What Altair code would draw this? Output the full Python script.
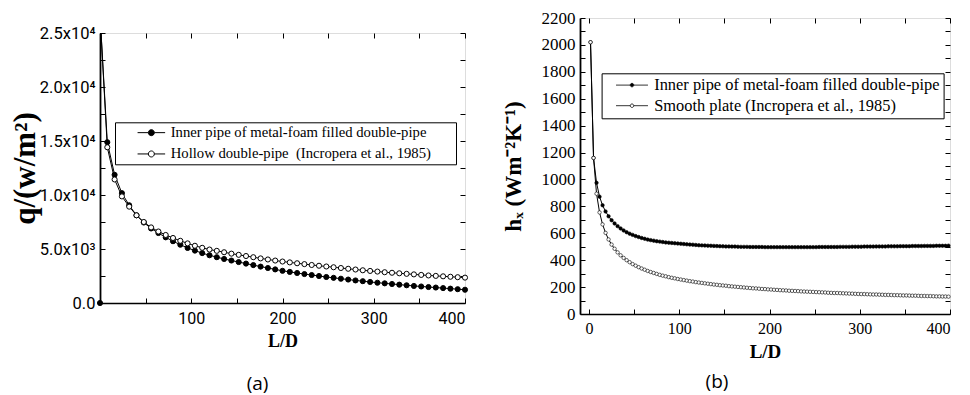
import altair as alt
import pandas as pd

# ---------------- panel (a): heat flux q versus L/D ----------------
ld_a = [8, 16, 24, 32, 40, 48, 56, 64, 72, 80, 88, 96, 104, 112, 120, 128, 136,
        144, 152, 160, 168, 176, 184, 192, 200, 208, 216, 224, 232, 240, 248, 256,
        264, 272, 280, 288, 296, 304, 312, 320, 328, 336, 344, 352, 360, 368, 376,
        384, 392, 400]
q_foam = [14890, 11870, 10170, 9050, 8120, 7450, 6900, 6480, 6080, 5720,
          5400, 5100, 4850, 4620, 4420, 4240, 4080, 3930, 3790, 3650,
          3510, 3370, 3240, 3110, 2980, 2880, 2780, 2680, 2590, 2500,
          2410, 2330, 2250, 2170, 2090, 2020, 1950, 1880, 1820, 1760,
          1700, 1640, 1580, 1530, 1480, 1430, 1380, 1330, 1280, 1230]
q_hollow = [14420, 11440, 9870, 8920, 8120, 7500, 7000, 6620, 6300, 6020,
            5760, 5520, 5300, 5110, 4950, 4830, 4700, 4570, 4460, 4350,
            4240, 4130, 4030, 3930, 3840, 3760, 3680, 3600, 3520, 3450,
            3380, 3310, 3240, 3170, 3100, 3030, 2970, 2910, 2850, 2800,
            2750, 2700, 2650, 2600, 2550, 2510, 2470, 2430, 2390, 2350]
ld_a_lead = [0, 0.5]          # curve rises off the top near the inlet
q_lead = [0, 26000]

ya_vals = [0, 5000, 10000, 15000, 20000, 25000]
ya_text = ["0.0", "5.0x10³", "1.0x10⁴", "1.5x10⁴", "2.0x10⁴", "2.5x10⁴"]
ya_ticks = [0, 2500, 5000, 7500, 10000, 12500, 15000, 17500, 20000, 22500, 25000]
xa_vals = [100, 200, 300, 400]
xa_ticks = [0, 50, 100, 150, 200, 250, 300, 350, 400]

FOAM = "Inner pipe of metal-foam filled double-pipe"
HOLLOW = "Hollow double-pipe\u00a0 (Incropera et al., 1985)"
SMOOTH = "Smooth plate (Incropera et al., 1985)"

# ---------------- panel (b): local heat transfer coefficient ----------------
ld_b = [round((10 * k - 5) / 3, 2) for k in range(1, 121)]
h_foam = [2020, 1160, 975, 872, 808, 762, 726, 697, 673, 653,
          636, 621, 608, 597, 588, 579, 572, 565, 559, 553,
          549, 545, 541, 538, 535, 532, 530, 528, 526, 524,
          522, 520, 518, 516, 515, 513, 511, 510, 509, 508,
          507, 506, 505, 504, 503, 502, 502, 501, 501, 500,
          499, 499, 499, 498, 498, 498, 498, 498, 497, 497,
          497, 497, 497, 497, 497, 497, 497, 497, 497, 497,
          497, 497, 497, 497, 497, 497, 498, 498, 498, 498,
          498, 498, 498, 499, 499, 499, 499, 500, 500, 500,
          500, 501, 501, 501, 501, 502, 502, 502, 502, 503,
          503, 503, 503, 504, 504, 504, 504, 505, 505, 505,
          505, 506, 506, 506, 506, 507, 507, 507, 507, 508]
h_smooth = [2020, 1160, 894, 755, 666, 603, 554, 516, 485, 458,
            436, 417, 400, 385, 371, 359, 348, 338, 329, 320,
            312, 305, 298, 291, 285, 280, 274, 269, 265, 260,
            256, 252, 248, 244, 241, 237, 234, 231, 228, 225,
            222, 219, 217, 214, 212, 210, 207, 205, 203, 201,
            199, 197, 195, 193, 191, 190, 188, 186, 185, 183,
            182, 180, 179, 177, 176, 175, 173, 172, 171, 170,
            168, 167, 166, 165, 164, 163, 162, 161, 160, 158,
            157, 156, 156, 155, 154, 153, 152, 151, 150, 149,
            148, 148, 147, 146, 145, 145, 144, 143, 142, 142,
            141, 140, 140, 139, 138, 138, 137, 136, 136, 135,
            134, 134, 133, 133, 132, 131, 131, 130, 130, 129]

yb_vals = list(range(0, 2201, 200))
yb_ticks = list(range(0, 2201, 100))
xb_vals = [0, 100, 200, 300, 400]
xb_ticks = [0, 50, 100, 150, 200, 250, 300, 350, 400]

SERIF = "Liberation Serif"
SANS = "Roboto"
BLANK = "\u2800"   # blank filler so the legend frame reaches as far as in the original


def frame(xs, names):
    rows = []
    for name, xv, yv in zip(names, xs[0::2], xs[1::2]):
        for i, (a, b) in enumerate(zip(xv, yv)):
            rows.append({"series": name, "ld": a, "v": b, "idx": i})
    return pd.DataFrame(rows)


def label_expr(vals, texts):
    s = "''"
    for v, t in reversed(list(zip(vals, texts))):
        s = f"datum.value == {v} ? '{t}' : {s}"
    return s


def tick_axis(orient, offset, values):
    return alt.Axis(orient=orient, offset=offset, values=values, labels=False,
                    domain=False, ticks=True, tickSize=5, tickWidth=1,
                    tickColor="black", grid=False, title=None)


def panel(line_df, pt_df, W, H, xdom, ydom, xa, ya, xt, yt, legend, pt_size,
          pt_stroke, caption, cap_dx, cap_offset):
    xs = alt.Scale(domain=xdom, nice=False, zero=False)
    ys = alt.Scale(domain=ydom, nice=False, zero=False)
    lines = alt.Chart(line_df).mark_line(color="black", strokeWidth=1, clip=True).encode(
        x=alt.X("ld:Q", scale=xs, axis=xa),
        y=alt.Y("v:Q", scale=ys, axis=ya),
        detail="series:N",
        order="idx:Q",
    )
    pts = alt.Chart(pt_df).mark_point(shape="circle", filled=True, size=pt_size,
                                      stroke="black", strokeWidth=pt_stroke,
                                      opacity=1, fillOpacity=1).encode(
        x=alt.X("ld:Q", scale=xs, axis=tick_axis("top", -H, xt)),
        y=alt.Y("v:Q", scale=ys, axis=tick_axis("right", -W, yt)),
        fill=alt.Fill("series:N", scale=alt.Scale(domain=legend["domain"], range=["black", "white"]),
                      legend=legend["legend"]),
    )
    ghost = alt.Chart(line_df).mark_line(opacity=0).encode(
        x=alt.X("ld:Q", scale=xs, axis=tick_axis("bottom", -H, xt)),
        y=alt.Y("v:Q", scale=ys, axis=tick_axis("left", -W, yt)),
        detail="series:N",
    )
    return alt.layer(lines, pts, ghost).resolve_axis(x="independent", y="independent").properties(
        width=W, height=H,
        title=alt.TitleParams(caption, orient="bottom", anchor="middle", font="Open Sans",
                              fontSize=19, fontWeight="normal", color="black", dx=cap_dx,
                              offset=cap_offset),
    )


# ----- panel (a) -----
line_a = frame([ld_a_lead + ld_a, q_lead + q_foam, ld_a_lead + ld_a, q_lead + q_hollow], [FOAM, HOLLOW])
pt_a = frame([[0] + ld_a, [0] + q_foam, ld_a, q_hollow], [FOAM, HOLLOW])

path_a = "M-2.2,0H-0.48M0.48,0H2.2M0.48,0A0.48,0.48,0,1,1,-0.48,0A0.48,0.48,0,1,1,0.48,0Z"
leg_a = alt.Legend(title=None, orient="none", legendX=15, legendY=104.3, symbolType=path_a,
                   symbolSize=157, symbolStrokeColor="black", symbolStrokeWidth=1,
                   labelFont=SERIF, labelFontSize=14.7, labelColor="black", labelLimit=0,
                   strokeColor="black", fillColor="white", padding=3, rowPadding=5.3,
                   symbolOffset=26, labelOffset=12,
                   labelExpr="datum.label + '" + BLANK * 2 + "'")

xa_a = alt.Axis(orient="bottom", values=xa_vals, format="d", ticks=False, domain=True,
                domainColor="black", domainWidth=1.5, labelFont=SANS, labelFontSize=16,
                labelColor="black", labelPadding=7, grid=False, title="L/D",
                titleFont=SERIF, titleFontSize=18, titleFontWeight="bold", titleColor="black",
                titlePadding=6)
ya_a = alt.Axis(orient="left", values=ya_vals, labelExpr=label_expr(ya_vals, ya_text),
                ticks=False, domain=True, domainColor="black", domainWidth=1.8,
                labelFont=SANS, labelFontSize=16.5, labelColor="black", labelPadding=5,
                grid=False, title="q/(w/m²)", titleFont=SERIF, titleFontSize=31,
                titleFontWeight="bold", titleColor="black", titleX=-59)

left = panel(line_a, pt_a, 365, 270, [0, 400], [0, 25000], xa_a, ya_a, xa_ticks, ya_ticks,
             {"domain": [FOAM, HOLLOW], "legend": leg_a}, 26, 1, "(a)", -25, 25)

spacer = alt.Chart(pd.DataFrame({"s": [0]})).mark_point(opacity=0, size=0).encode(
    x=alt.X("s:Q", axis=None), y=alt.Y("s:Q", axis=None)
).properties(width=365, height=1, view=alt.ViewBackground(stroke="transparent"))

left_col = alt.vconcat(spacer, left, spacing=1)

# ----- panel (b) -----
line_b = frame([ld_b, h_foam, ld_b, h_smooth], [FOAM, SMOOTH])
pt_b = frame([ld_b, h_foam, ld_b, h_smooth], [FOAM, SMOOTH])

path_b = "M-2.2,0H-0.24M0.24,0H2.2M0.24,0A0.24,0.24,0,1,1,-0.24,0A0.24,0.24,0,1,1,0.24,0Z"
leg_b = alt.Legend(title=None, orient="none", legendX=21.6, legendY=55.3, symbolType=path_b,
                   symbolSize=211, symbolStrokeColor="black", symbolStrokeWidth=0.8,
                   labelFont=SERIF, labelFontSize=16.4, labelColor="black", labelLimit=0,
                   strokeColor="black", fillColor="white", padding=3.6, rowPadding=3.6,
                   symbolOffset=18.6, labelOffset=14)

xa_b = alt.Axis(orient="bottom", values=xb_vals, format="d", ticks=False, domain=True,
                domainColor="black", domainWidth=1.5, labelFont=SERIF, labelFontSize=16,
                labelColor="black", labelPadding=6, grid=False, title="L/D",
                titleFont=SERIF, titleFontSize=19, titleFontWeight="bold", titleColor="black",
                titlePadding=6)
ya_b = alt.Axis(orient="left", values=yb_vals, format="d", ticks=False, domain=True,
                domainColor="black", domainWidth=1.8, labelFont=SERIF, labelFontSize=17,
                labelColor="black", labelPadding=5, grid=False, title="hₓ (Wm⁻²K⁻¹)",
                titleFont=SERIF, titleFontSize=23, titleFontWeight="bold", titleColor="black",
                titleX=-55)

right = panel(line_b, pt_b, 370, 296, [-10, 400], [0, 2200], xa_b, ya_b, xb_ticks, yb_ticks,
              {"domain": [FOAM, SMOOTH], "legend": leg_b}, 12, 0.6, "(b)", -48, 12)

chart = alt.hconcat(left_col, right, spacing=30).resolve_scale(fill="independent").properties(
    padding={"left": 0, "top": 0, "right": 0, "bottom": 0}
).configure_view(stroke="black", strokeWidth=1.2).configure(background="white")

chart.save("out.html", embed_options={"renderer": "svg", "actions": False})
